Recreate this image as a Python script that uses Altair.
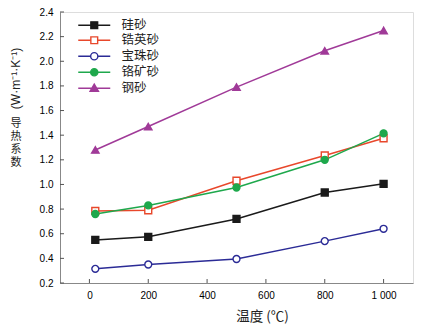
import altair as alt
import pandas as pd

temps = [20, 200, 500, 800, 1000]
series = ["硅砂", "锆英砂", "宝珠砂", "铬矿砂", "钢砂"]
silica = [0.55, 0.575, 0.72, 0.935, 1.005]
zircon = [0.785, 0.79, 1.03, 1.235, 1.375]
pearl = [0.315, 0.35, 0.395, 0.54, 0.64]
chromite = [0.76, 0.83, 0.975, 1.2, 1.415]
steel = [1.28, 1.47, 1.79, 2.085, 2.25]
colors = ["#1a1a1a", "#e8472b", "#2b2b96", "#1ea84c", "#a03a98"]
fills = ["#1a1a1a", "#ffffff", "#ffffff", "#1ea84c", "#a03a98"]
x_ticks = [0, 200, 400, 600, 800, 1000]
y_ticks = [0.2, 0.4, 0.6, 0.8, 1.0, 1.2, 1.4, 1.6, 1.8, 2.0, 2.2, 2.4]
ytitle_chars = ["导", "热", "系", "数"]

# legend symbols: line + marker (custom paths)
legend_paths = [
    "M-4,0H4M-0.85,-0.85H0.85V0.85H-0.85Z",
    "M-4,0H-0.85M0.85,0H4M-0.85,-0.85H0.85V0.85H-0.85Z",
    "M-4,0H-0.9M0.9,0H4M-0.9,0A0.9,0.9,0,1,1,0.9,0A0.9,0.9,0,1,1,-0.9,0Z",
    "M-4,0H4M-0.9,0A0.9,0.9,0,1,1,0.9,0A0.9,0.9,0,1,1,-0.9,0Z",
    "M-4,0H4M0,-1.05L1.05,0.75H-1.05Z",
]

rows = []
for name, vals in zip(series, [silica, zircon, pearl, chromite, steel]):
    for t, v in zip(temps, vals):
        rows.append({"series": name, "T": t, "k": v})
df = pd.DataFrame(rows)

W, H = 353, 271
xs = alt.Scale(domain=[-100, 1100], nice=False)
ys = alt.Scale(domain=[0.2, 2.4], nice=False, zero=False)
stroke_scale = alt.Scale(domain=series, range=colors)
fill_scale = alt.Scale(domain=series, range=fills)

x_axis = alt.Axis(
    values=x_ticks, ticks=False, grid=False, labelPadding=7, labelOverlap=False,
    labelExpr="datum.value == 1000 ? '1 000' : datum.label",
    title="温度 (℃)", titleFont="Noto Sans CJK SC", titleFontSize=13.5,
    titleFontWeight="normal", titleColor="#222",
    titleX=202, titleY=33, titleBaseline="middle", titleAlign="center")
y_axis = alt.Axis(
    values=y_ticks, ticks=False, grid=False, format=".1f", labelPadding=7,
    labelOverlap=False, labelFlush=False,
    title="(W·m⁻¹·K⁻¹)", titleFont="Liberation Sans", titleFontSize=12,
    titleFontWeight="normal", titleColor="#222",
    titleX=-45, titleY=66, titleAlign="center", titleBaseline="middle", titleAngle=270)

base = alt.Chart(df)

lines = base.mark_line(strokeWidth=1.5).encode(
    x=alt.X("T:Q", scale=xs, axis=x_axis),
    y=alt.Y("k:Q", scale=ys, axis=y_axis),
    stroke=alt.Stroke("series:N", scale=stroke_scale, sort=series),
    detail="series:N",
)

def pts(names, shape, size):
    return base.transform_filter(
        alt.FieldOneOfPredicate(field="series", oneOf=names)
    ).mark_point(shape=shape, size=size, strokeWidth=1.4, opacity=1).encode(
        x=alt.X("T:Q", scale=xs, axis=x_axis), y=alt.Y("k:Q", scale=ys, axis=y_axis),
        stroke=alt.Stroke("series:N", scale=stroke_scale),
        fill=alt.Fill("series:N", scale=fill_scale),
    )

p_sq = pts(["硅砂", "锆英砂"], "square", 48)
p_ci = pts(["宝珠砂", "铬矿砂"], "circle", 48)
p_tr = pts(["钢砂"], "triangle-up", 55)

leg = alt.Legend(
    orient="none", legendX=28, legendY=7, title=None,
    labelFont="Noto Sans CJK SC", labelFontSize=12.5, labelColor="#222",
    symbolSize=64, symbolStrokeWidth=1.4, labelOffset=21, rowPadding=2,
    symbolOpacity=1,
)
legend_layer = base.transform_filter("false").mark_point(
    size=64, strokeWidth=1.4, opacity=1
).encode(
    shape=alt.Shape("series:N", scale=alt.Scale(domain=series, range=legend_paths), legend=leg),
    stroke=alt.Stroke("series:N", scale=stroke_scale, legend=leg),
    fill=alt.Fill("series:N", scale=fill_scale, legend=leg),
)

xt = pd.DataFrame({"T": x_ticks})
yt = pd.DataFrame({"k": y_ticks})
xtick_layer = alt.Chart(xt).mark_rule(color="#555", strokeWidth=1).encode(
    x=alt.X("T:Q", scale=xs, axis=x_axis), y=alt.value(H), y2=alt.value(H - 4))
ytick_layer = alt.Chart(yt).mark_rule(color="#555", strokeWidth=1).encode(
    y=alt.Y("k:Q", scale=ys, axis=y_axis), x=alt.value(0), x2=alt.value(4))

ylabel = alt.Chart(pd.DataFrame({"s": ["\n".join(ytitle_chars)]})).mark_text(
    font="Noto Sans CJK SC", fontSize=11, lineBreak="\n", lineHeight=13,
    baseline="top", align="center", color="#222"
).encode(text="s:N", x=alt.value(-44), y=alt.value(106))

chart = alt.layer(
    lines, xtick_layer, ytick_layer, p_sq, p_ci, p_tr, legend_layer, ylabel
).properties(
    width=W, height=H,
    padding={"left": 60, "top": 12, "right": 27, "bottom": 47},
    autosize=alt.AutoSizeParams(type="none"),
).configure_view(
    stroke="#555", strokeWidth=1.5
).configure_axis(
    labelFont="Liberation Sans", labelFontSize=12.5, labelColor="#222",
    domain=False, labelOverlap=False
).configure(background="white")

chart.save("out.html", embed_options={"renderer": "svg", "actions": False})
